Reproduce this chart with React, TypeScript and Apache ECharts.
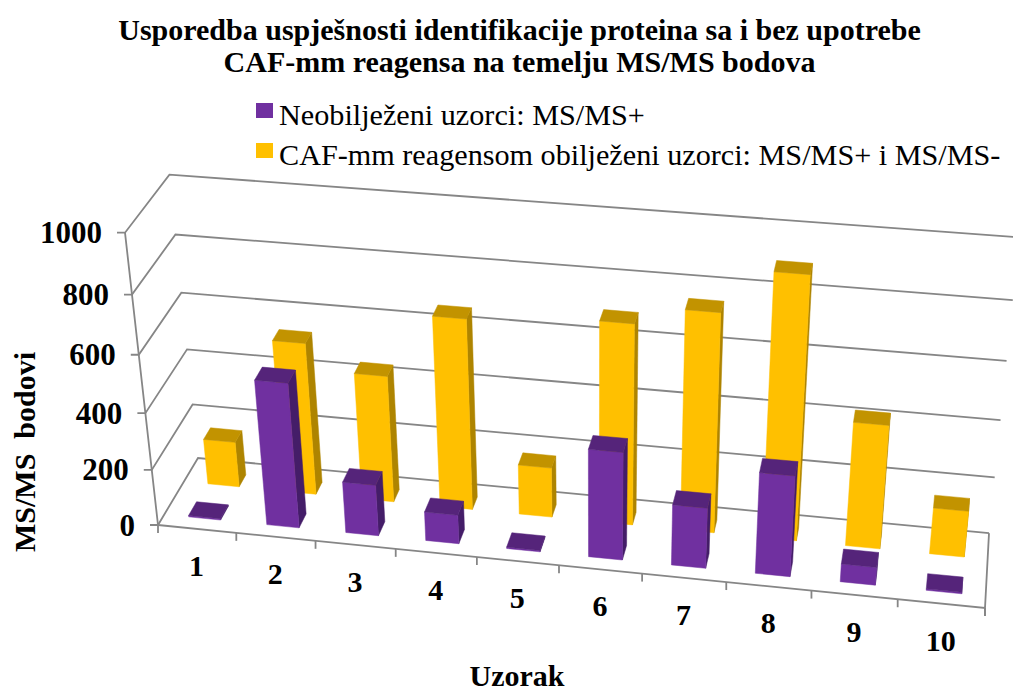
import React, { useEffect, useRef } from "react";
import * as echarts from "echarts";

const titleText = "Usporedba uspješnosti identifikacije proteina sa i bez upotrebe\nCAF-mm reagensa na temelju MS/MS bodova";
const categories = ["1", "2", "3", "4", "5", "6", "7", "8", "9", "10"];
const valueTicks = [0, 200, 400, 600, 800, 1000];
const purpleName = "Neobilježeni uzorci: MS/MS+";
const yellowName = "CAF-mm reagensom obilježeni uzorci: MS/MS+ i MS/MS-";
const purpleValues = [5, 512, 182, 103, 5, 378, 213, 352, 63, 5];
const yellowValues = [164, 540, 450, 670, 178, 700, 760, 905, 433, 163];

const W = 1013;
const H = 690;
const SERIF = '"Liberation Serif", "Times New Roman", serif';
const GRID = "#868686";

// perspective camera of the 3D box: origin, three edge ends and their foreshortening
const O = [158, 525];
const U = [985, 608];
const V = [198, 458];
const Z = [125, 232.7];
const a = -0.0587;
const b = 0.0458;
const c = -0.0702;
const bu = [U[0] * (1 + a) - O[0], U[1] * (1 + a) - O[1]];
const bv = [V[0] * (1 + b) - O[0], V[1] * (1 + b) - O[1]];
const bw = [Z[0] * (1 + c) - O[0], Z[1] * (1 + c) - O[1]];
function project(u: number, v: number, w: number): number[] {
  const d = 1 + a * u + b * v + c * w;
  return [
    (O[0] + bu[0] * u + bv[0] * v + bw[0] * w) / d,
    (O[1] + bu[1] * u + bv[1] * v + bw[1] * w) / d,
  ];
}

function line(points: number[][], width = 1.8) {
  return {
    type: "polyline",
    shape: { points },
    style: { stroke: GRID, lineWidth: width, fill: "none" },
    silent: true,
  };
}

function barRenderer(front: string, top: string, side: string, v0: number, v1: number) {
  return (_params: any, api: any) => {
    const pt = api.coord([api.value(0), api.value(1)]);
    const band = api.size([1, 0])[0] / W;
    const uc = pt[0] / W + band * 0.02;
    const w = 1 - pt[1] / H;
    const u0 = uc - band * 0.205;
    const u1 = uc + band * 0.205;
    const poly = (pts: number[][], fill: string) => ({
      type: "polygon",
      shape: { points: pts },
      style: { fill, stroke: fill, lineWidth: 0.5 },
    });
    return {
      type: "group",
      children: [
        poly([project(u1, v0, 0), project(u1, v1, 0), project(u1, v1, w), project(u1, v0, w)], side),
        poly([project(u0, v0, 0), project(u1, v0, 0), project(u1, v0, w), project(u0, v0, w)], front),
        poly([project(u0, v0, w), project(u1, v0, w), project(u1, v1, w), project(u0, v1, w)], top),
      ],
    };
  };
}

function valueFrame(_params: any, api: any) {
  const t = api.value(1);
  const w = 1 - api.coord([0, t])[1] / H;
  const f = project(0, 0, w);
  return {
    type: "group",
    children: [
      line([[f[0] - 8, f[1]], f, project(0, 1, w), project(1, 1, w)]),
      {
        type: "text",
        x: f[0] - 23,
        y: f[1],
        style: {
          text: String(t),
          fill: "#000",
          font: `bold 31px ${SERIF}`,
          align: "right",
          verticalAlign: "middle",
        },
      },
    ],
  };
}

function categoryFrame(params: any, api: any) {
  const i = api.value(0);
  const band = api.size([1, 0])[0] / W;
  const u = api.coord([i, 0])[0] / W;
  const p = project(u, 0, 0);
  const e = project(u + band / 2, 0, 0);
  return {
    type: "group",
    children: [
      line([e, [e[0], e[1] + 8]]),
      {
        type: "text",
        x: p[0] - 0.5,
        y: p[1] + 36.5,
        style: {
          text: categories[params.dataIndex],
          fill: "#000",
          font: `bold 30px ${SERIF}`,
          align: "center",
          verticalAlign: "middle",
        },
      },
    ],
  };
}

function boxFrame() {
  return {
    type: "group",
    children: [
      line([project(0, 0, 1), project(0, 0, 0), [O[0], O[1] + 8]]),
      line([project(0, 0, 0), project(1, 0, 0), project(1, 1, 0)]),
      line([project(1, 0, 0), [U[0], U[1] + 8]]),
    ],
  };
}

export default function App() {
  const ref = useRef<HTMLDivElement>(null);
  useEffect(() => {
    const chart = echarts.init(ref.current!, undefined, { renderer: "svg" });
    chart.setOption({
      animation: false,
      backgroundColor: "#fff",
      title: {
        text: titleText,
        left: 514.5,
        top: 8,
        textAlign: "center",
        textStyle: { fontFamily: SERIF, fontWeight: "bold", fontSize: 30, lineHeight: 32, color: "#000" },
      },
      legend: {
        orient: "vertical",
        left: 251,
        top: 95,
        itemGap: 10,
        itemWidth: 17,
        itemHeight: 24,
        icon: "path://M0 0h17v15h-17zM0 24h17z",
        data: [purpleName, yellowName],
        selectedMode: false,
        textStyle: { fontFamily: SERIF, fontSize: 30.2, color: "#000", padding: [0, 0, 0, 1] },
      },
      grid: { left: 0, top: 0, width: W, height: H, containLabel: false },
      xAxis: { type: "category", data: categories, show: false },
      yAxis: { type: "value", min: 0, max: 1000, interval: 200, show: false },
      graphic: [
        {
          type: "text",
          x: 517,
          y: 675,
          style: { text: "Uzorak", fill: "#000", font: `bold 30px ${SERIF}`, align: "center", verticalAlign: "middle" },
        },
        {
          type: "text",
          x: 24,
          y: 452,
          rotation: Math.PI / 2,
          style: { text: "MS/MS  bodovi", fill: "#000", font: `bold 30px ${SERIF}`, align: "center", verticalAlign: "middle" },
        },
      ],
      series: [
        { type: "custom", renderItem: valueFrame, data: valueTicks.map((t) => [0, t]), encode: { x: 0, y: 1 }, silent: true, z: 1 },
        { type: "custom", renderItem: categoryFrame, data: categories.map((_, i) => [i, 0]), encode: { x: 0, y: 1 }, silent: true, z: 1 },
        { type: "custom", renderItem: boxFrame, data: [[0, 0]], encode: { x: 0, y: 1 }, silent: true, z: 1 },
        {
          type: "custom",
          name: yellowName,
          renderItem: barRenderer("#FFC000", "#C29300", "#AE8400", 0.64, 0.82),
          data: yellowValues.map((v, i) => [i, v]),
          encode: { x: 0, y: 1 },
          itemStyle: { color: "#FFC000" },
          z: 2,
        },
        {
          type: "custom",
          name: purpleName,
          renderItem: barRenderer("#7030A0", "#55247A", "#441D68", 0.152, 0.352),
          data: purpleValues.map((v, i) => [i, v]),
          encode: { x: 0, y: 1 },
          itemStyle: { color: "#7030A0" },
          z: 3,
        },
      ],
    });
    return () => chart.dispose();
  }, []);
  return <div ref={ref} style={{ position: "absolute", left: 0, top: 0, width: W, height: H }} />;
}
